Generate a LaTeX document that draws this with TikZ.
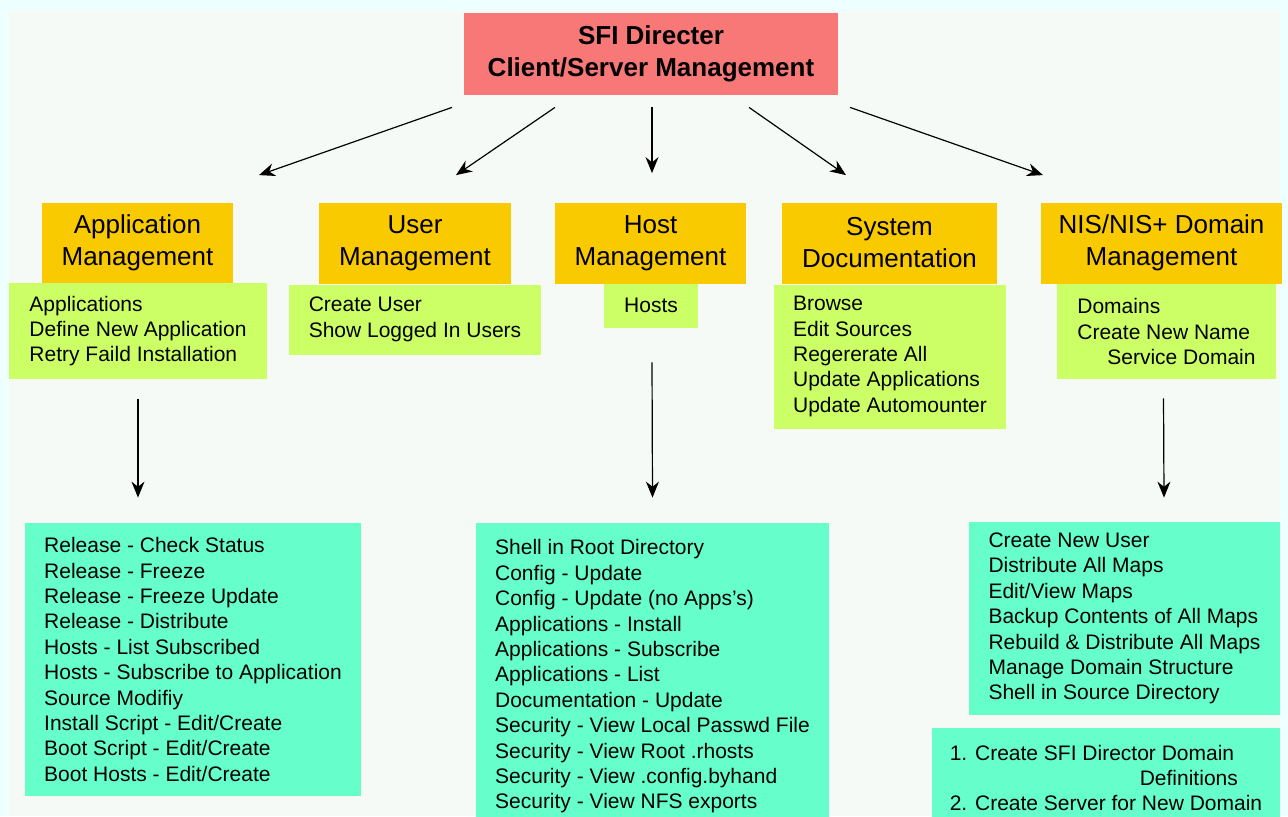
\documentclass[tikz,border=0pt]{standalone}
\usepackage{fontspec}
\setmainfont{Liberation Sans}
\usepackage{tikz}
\usetikzlibrary{positioning, arrows.meta, calc}
\definecolor{bgouter}{RGB}{238,255,255}
\definecolor{bginner}{RGB}{246,250,246}
\definecolor{rootred}{RGB}{248,120,120}
\definecolor{headyellow}{RGB}{250,202,0}
\definecolor{itemlime}{RGB}{204,255,102}
\definecolor{jobteal}{RGB}{102,255,204}

\begin{document}
\begin{tikzpicture}[
                x=0.5pt, y=-0.5pt,
                rootbox/.style={fill=rootred, rectangle, minimum width=187pt, minimum height=41pt, align=center, font=\bfseries\fontsize{13}{16}\selectfont},
                headbox/.style={fill=headyellow, rectangle, minimum height=40.5pt, align=center, font=\fontsize{13}{16}\selectfont},
                itembox/.style={fill=itemlime, rectangle, inner xsep=4pt, inner ysep=2pt, align=left, font=\fontsize{10.5}{12.7}\selectfont},
                jobbox/.style={fill=jobteal, rectangle, inner xsep=4pt, inner ysep=2pt, align=left, font=\fontsize{10.5}{12.7}\selectfont},
                edge/.style={line width=0.6pt, -{Stealth[length=8pt,width=6.5pt]}}
            ]

            \useasboundingbox (0,0) rectangle (1288,816);
            \fill[bgouter] (0,0) rectangle (1288,816);
            \fill[bginner] (9,11) rectangle (1280,816);

            % Kästen
            \node[rootbox] (root) at (651,54) {SFI Directer\\Client/Server Management};

            \node[headbox, minimum width=95.5pt] (apphead) at (137.5,243) {Application\\Management};
            \node[headbox, minimum width=96pt] (userhead) at (415,243) {User\\Management};
            \node[headbox, minimum width=95.5pt] (hosthead) at (650.5,243) {Host\\Management};
            \node[headbox, minimum width=107.5pt] (syshead) at (889.5,243) {System\\Documentation};
            \node[headbox, minimum width=120.5pt] (nishead) at (1161.5,243) {NIS/NIS+ Domain\\Management};

            \node[itembox, minimum width=129pt, minimum height=48pt] (applist) at (138,331) {Applications\\Define New Application\\Retry Faild Installation};
            \node[itembox, minimum width=126pt, minimum height=35pt] (userlist) at (415,319.5) {Create User\\Show Logged In Users};
            \node[itembox, minimum width=47pt, minimum height=22pt] (hostlist) at (651,305.5) {Hosts};
            \node[itembox, minimum width=116pt, minimum height=72pt] (syslist) at (890,356.5) {Browse\\Edit Sources\\Regererate All\\Update Applications\\Update Automounter};
            \node[itembox, minimum width=109.5pt, minimum height=47.5pt] (nislist) at (1166.5,331.5) {Domains\\Create New Name\\\hspace*{15pt}Service Domain};

            \node[jobbox, minimum width=168pt, minimum height=136.5pt] (appjobs) at (193,659.5) {Release - Check Status\\Release - Freeze\\Release - Freeze Update\\Release - Distribute\\Hosts - List Subscribed\\Hosts - Subscribe to Application\\Source Modifiy\\Install Script - Edit/Create\\Boot Script - Edit/Create\\Boot Hosts - Edit/Create};
            \node[jobbox, minimum width=176.5pt, minimum height=153.5pt] (hostjobs) at (652.5,676.5) {Shell in Root Directory\\Config - Update\\Config - Update (no Apps's)\\Applications - Install\\Applications - Subscribe\\Applications - List\\Documentation - Update\\Security - View Local Passwd File\\Security - View Root .rhosts\\Security - View .config.byhand\\Security - View NFS exports};
            \node[jobbox, minimum width=155.5pt, minimum height=96.5pt] (nisjobs) at (1124.5,618.5) {Create New User\\Distribute All Maps\\Edit/View Maps\\Backup Contents of All Maps\\Rebuild \& Distribute All Maps\\Manage Domain Structure\\Shell in Source Directory};
            \node[jobbox, minimum width=174pt, minimum height=50pt] (nissetup) at (1106,778) {1. Create SFI Director Domain\\\hspace*{95pt}Definitions\\2. Create Server for New Domain};

            % Pfeile
            \draw[edge] ([shift={(-199,12)}]root.south) -- ([shift={(121.5,-27)}]apphead.north);
            \draw[edge] ([shift={(-96,12)}]root.south) -- ([shift={(41,-27)}]userhead.north);
            \draw[edge] ([shift={(1,12)}]root.south) -- ([shift={(1.5,-29)}]hosthead.north);
            \draw[edge] ([shift={(98,12)}]root.south) -- ([shift={(-43.5,-27)}]syshead.north);
            \draw[edge] ([shift={(199,12)}]root.south) -- ([shift={(-118.5,-27)}]nishead.north);

            \draw[edge] ([shift={(0,19.5)}]applist.south) -- ([shift={(-55,-25)}]appjobs.north);
            \draw[edge] ([shift={(1,34.5)}]hostlist.south) -- ([shift={(0,-25)}]hostjobs.north);
            \draw[edge] ([shift={(-3,19)}]nislist.south) -- ([shift={(39.5,-24)}]nisjobs.north);

        \end{tikzpicture}
\end{document}
